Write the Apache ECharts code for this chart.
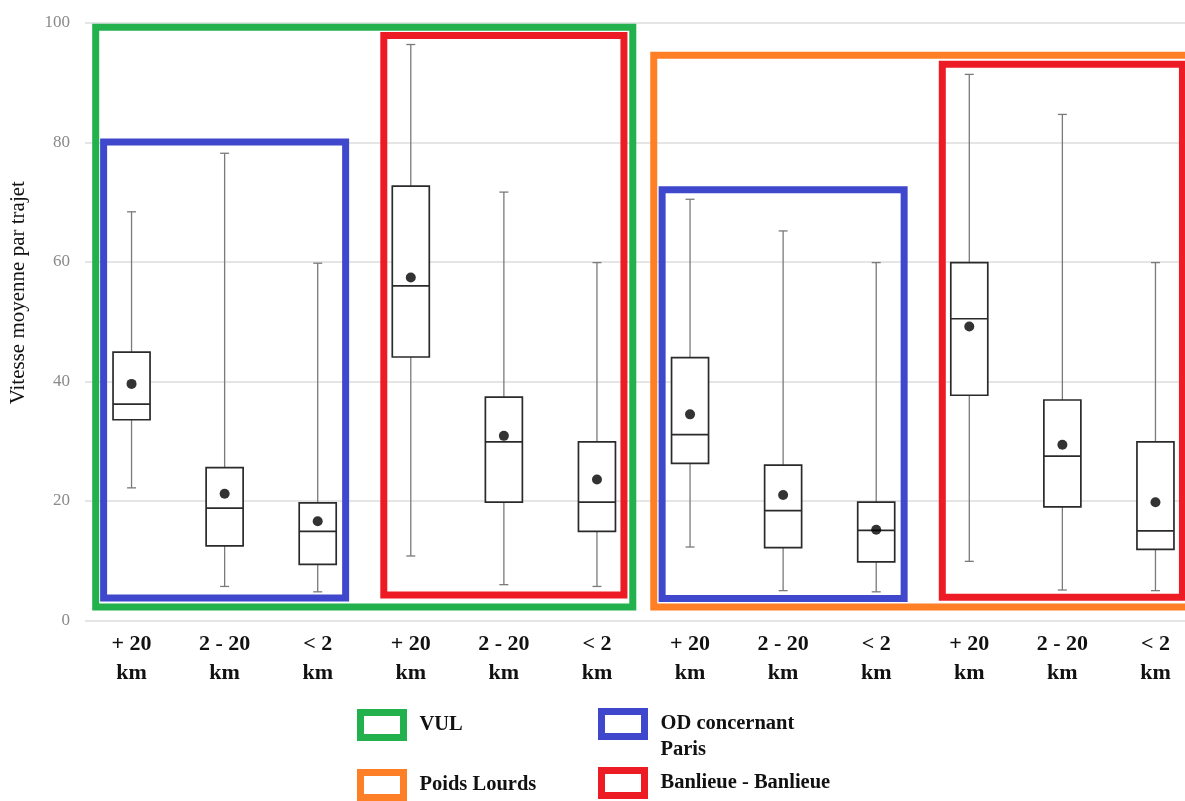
<!DOCTYPE html>
<html>
<head>
<meta charset="utf-8">
<script src="https://cdn.jsdelivr.net/npm/echarts@6/dist/echarts.min.js"></script>
<style>
  html, body { margin: 0; padding: 0; background: #ffffff; overflow: hidden; }
  #chart { width: 1202px; height: 801px; }
</style>
</head>
<body>
<div id="chart"></div>
<script>
// ---- Data ----
const categories = ['+ 20\nkm', '2 - 20\nkm', '< 2\nkm', '+ 20\nkm', '2 - 20\nkm', '< 2\nkm',
                    '+ 20\nkm', '2 - 20\nkm', '< 2\nkm', '+ 20\nkm', '2 - 20\nkm', '< 2\nkm'];
const whiskerLow  = [22.2, 5.7, 4.8, 10.8, 6.0, 5.7, 12.3, 5.0, 4.8, 9.9, 5.1, 5.0];
const q1          = [33.6, 12.5, 9.4, 44.1, 19.8, 14.9, 26.3, 12.2, 9.8, 37.7, 19.0, 11.9];
const median      = [36.2, 18.8, 14.9, 56.0, 29.9, 19.8, 31.1, 18.4, 15.1, 50.5, 27.5, 15.0];
const q3          = [44.9, 25.6, 19.7, 72.7, 37.4, 29.9, 44.0, 26.0, 19.8, 59.9, 36.9, 29.9];
const whiskerHigh = [68.4, 78.2, 59.8, 96.4, 71.7, 59.9, 70.5, 65.2, 59.9, 91.4, 84.7, 59.9];
const mean        = [39.6, 21.2, 16.6, 57.4, 30.9, 23.6, 34.5, 21.0, 15.2, 49.2, 29.4, 19.8];
const yTicks = [0, 20, 40, 60, 80, 100];

// Group frames: [first category, last category, lower value, upper value]
const frameVUL = [[0, 5, 2.26, 99.3]];
const frameOD  = [[0, 2, 3.77, 80.1], [6, 8, 3.68, 72.1]];
const framePL  = [[6, 11, 2.26, 94.6]];
const frameBB  = [[3, 5, 4.27, 97.9], [9, 11, 3.9, 93.1]];
const groupNames = ['VUL', 'OD concernant Paris', 'Poids Lourds', 'Banlieue - Banlieue'];

// ---- Styles ----
const C_GREEN = '#22b14c', C_BLUE = '#3f48cc', C_ORANGE = '#ff7f27', C_RED = '#ed1c24';
const SERIF = '"Liberation Serif", "Times New Roman", serif';

const boxData = categories.map((c, i) => [i, whiskerLow[i], q1[i], median[i], q3[i], whiskerHigh[i]]);
const meanData = categories.map((c, i) => [i, mean[i]]);

function frameSeries(name, data, color, pad, z) {
  return {
    name: name,
    type: 'custom',
    z: z,
    clip: false,
    silent: true,
    itemStyle: { color: color },
    encode: { x: [0, 1], y: [2, 3] },
    data: data,
    renderItem: function (params, api) {
      const bw = api.size([1, 0])[0];
      const pTop = api.coord([api.value(0), api.value(3)]);
      const pBot = api.coord([api.value(1), api.value(2)]);
      const x0 = pTop[0] - pad * bw, x1 = pBot[0] + pad * bw;
      return {
        type: 'rect',
        shape: { x: x0, y: pTop[1], width: x1 - x0, height: pBot[1] - pTop[1] },
        style: { fill: 'none', stroke: color, lineWidth: 7 }
      };
    }
  };
}

const chart = echarts.init(document.getElementById('chart'), null, { renderer: 'canvas' });

const legendText = {
  fontFamily: SERIF, fontWeight: 'bold', fontSize: 20.5, color: '#111', lineHeight: 26,
  rich: { s: { width: 11, fontSize: 20.5, lineHeight: 26 } }
};
function legendOf(name, color, left, top, extra) {
  return Object.assign({
    left: left, top: top, orient: 'vertical', padding: 0,
    selectedMode: false, icon: 'rect', itemWidth: 43, itemHeight: 25, itemGap: 10,
    textStyle: legendText,
    formatter: function (n) { return '{s| }' + n; },
    data: [{ name: name, itemStyle: { color: '#ffffff', borderColor: color, borderWidth: 7 } }]
  }, extra || {});
}

const option = {
  backgroundColor: '#ffffff',
  animation: false,
  grid: { left: 85, right: 0, top: 23, bottom: 180.5, containLabel: false },
  legend: [
    legendOf(groupNames[0], C_GREEN, 357, 709),
    legendOf(groupNames[2], C_ORANGE, 357, 769),
    legendOf(groupNames[1], C_BLUE, 598, 685, {
      formatter: function (n) { return '{s| }\n{s| }' + n.replace(' Paris', '\n{s| }Paris'); }
    }),
    legendOf(groupNames[3], C_RED, 598, 767)
  ],
  xAxis: {
    type: 'category',
    data: categories,
    axisLine: { show: false },
    axisTick: { show: false },
    axisLabel: {
      interval: 0, margin: 9,
      fontFamily: SERIF, fontWeight: 'bold', fontSize: 22, lineHeight: 29, color: '#111'
    },
    splitLine: { show: false }
  },
  yAxis: {
    type: 'value',
    min: yTicks[0], max: yTicks[yTicks.length - 1], interval: 20,
    name: 'Vitesse moyenne par trajet',
    nameLocation: 'middle',
    nameGap: 56,
    nameTextStyle: { fontFamily: SERIF, fontSize: 21, color: '#111', padding: [0, 0, 0, 58] },
    axisLine: { show: false },
    axisTick: { show: false },
    axisLabel: { margin: 15, fontFamily: SERIF, fontSize: 17, color: '#8a8a8a' },
    splitLine: { show: true, lineStyle: { color: '#dcdcdc', width: 1.5 } }
  },
  series: [
    frameSeries(groupNames[0], frameVUL, C_GREEN, 0.385, 3),
    frameSeries(groupNames[2], framePL, C_ORANGE, 0.39, 3),
    frameSeries(groupNames[1], frameOD, C_BLUE, 0.30, 4),
    frameSeries(groupNames[3], frameBB, C_RED, 0.29, 4),
    {
      name: 'Boîtes',
      type: 'custom',
      z: 5,
      encode: { x: 0, y: [1, 2, 3, 4, 5] },
      data: boxData,
      renderItem: function (params, api) {
        const idx = api.value(0);
        const x = api.coord([idx, 0])[0];
        const yLo = api.coord([idx, api.value(1)])[1];
        const yQ1 = api.coord([idx, api.value(2)])[1];
        const yMed = api.coord([idx, api.value(3)])[1];
        const yQ3 = api.coord([idx, api.value(4)])[1];
        const yHi = api.coord([idx, api.value(5)])[1];
        const hw = 18.5, cap = 4.5;
        const wStyle = { stroke: '#7a7a7a', lineWidth: 1.3 };
        const bStyle = { stroke: '#2a2a2a', lineWidth: 1.7 };
        return {
          type: 'group',
          children: [
            { type: 'line', shape: { x1: x, y1: yHi, x2: x, y2: yQ3 }, style: wStyle },
            { type: 'line', shape: { x1: x, y1: yQ1, x2: x, y2: yLo }, style: wStyle },
            { type: 'line', shape: { x1: x - cap, y1: yHi, x2: x + cap, y2: yHi }, style: wStyle },
            { type: 'line', shape: { x1: x - cap, y1: yLo, x2: x + cap, y2: yLo }, style: wStyle },
            { type: 'rect', shape: { x: x - hw, y: yQ3, width: 2 * hw, height: yQ1 - yQ3 },
              style: Object.assign({ fill: '#ffffff' }, bStyle) },
            { type: 'line', shape: { x1: x - hw, y1: yMed, x2: x + hw, y2: yMed }, style: bStyle }
          ]
        };
      }
    },
    {
      name: 'Moyenne',
      type: 'scatter',
      z: 6,
      symbol: 'circle',
      symbolSize: 10,
      itemStyle: { color: '#000000' },
      data: meanData
    }
  ]
};
chart.setOption(option);
</script>
</body>
</html>
